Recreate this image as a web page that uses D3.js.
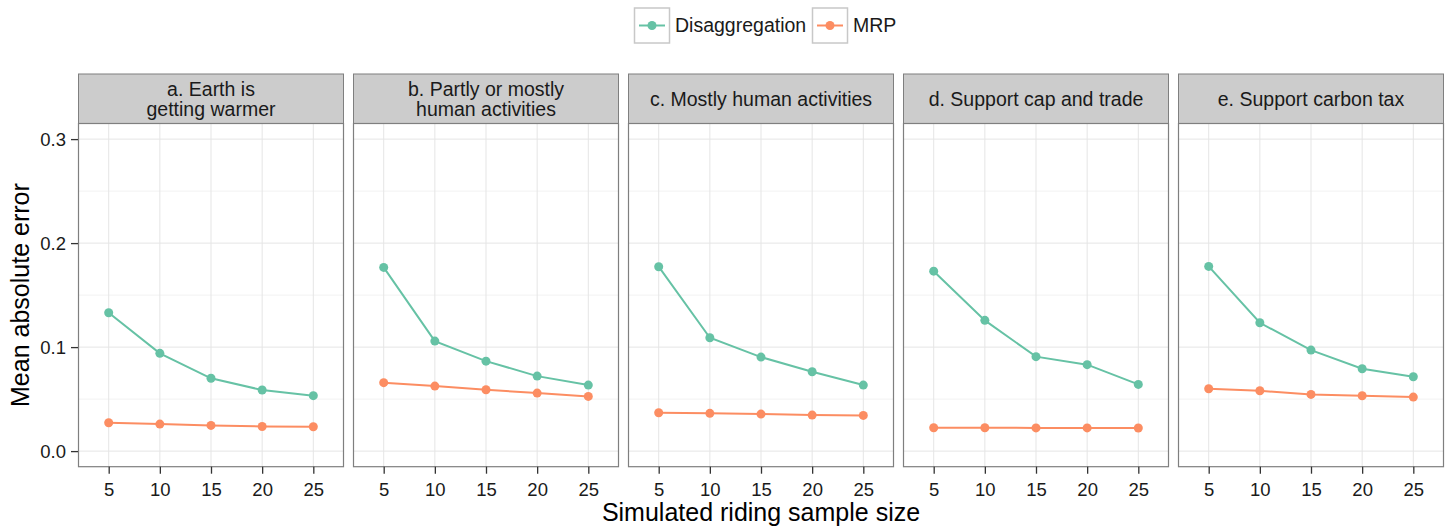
<!DOCTYPE html>
<html>
<head>
<meta charset="utf-8">
<script src="https://cdn.jsdelivr.net/npm/d3@7"></script>
<style>
  body { margin: 0; background: #fff; }
  svg { font-family: "Liberation Sans", Arial, sans-serif; }
</style>
</head>
<body>
<svg id="chart"></svg>
<script>
let sampleSizes = [5, 10, 15, 20, 25];
let panelTitles = [
  ['a. Earth is', 'getting warmer'],
  ['b. Partly or mostly', 'human activities'],
  ['c. Mostly human activities'],
  ['d. Support cap and trade'],
  ['e. Support carbon tax']
];
let seriesNames = ['Disaggregation', 'MRP'];
let seriesColors = ['#66c2a5', '#fc8d62'];
let yTicks = [0.0, 0.1, 0.2, 0.3];
let yMinorTicks = [0.05, 0.15, 0.25];

let disaggregation = [
  [0.133, 0.094, 0.070, 0.0587, 0.0533],
  [0.1766, 0.1058, 0.0865, 0.0721, 0.0635],
  [0.1773, 0.109, 0.0904, 0.0763, 0.0635],
  [0.173, 0.1257, 0.0908, 0.0831, 0.0641],
  [0.1776, 0.1234, 0.0971, 0.0792, 0.0715]
];
let mrp = [
  [0.0273, 0.026, 0.0247, 0.0237, 0.0234],
  [0.0658, 0.0625, 0.059, 0.0558, 0.0526],
  [0.0369, 0.0363, 0.0356, 0.0346, 0.0343],
  [0.0225, 0.0224, 0.0223, 0.0223, 0.0222],
  [0.060, 0.058, 0.0545, 0.0532, 0.0519]
];

let width = 1448;
let height = 527;
let panelLeft = 78;
let panelWidth = 266;
let panelGap = 9;
let stripTop = 74;
let stripBottom = 123.5;
let plotBottom = 466.7;

let svg = d3.select('#chart').attr('width', width).attr('height', height);

let xScale = d3.scalePoint().domain(sampleSizes).range([0, panelWidth]).padding(0.6);
let yScale = d3.scaleLinear().domain([-0.015, 0.315]).range([plotBottom, stripBottom]);

let line = d3.line().x(d => xScale(d.x)).y(d => yScale(d.y));

panelTitles.forEach((title, i) => {
  let left = panelLeft + i * (panelWidth + panelGap);
  let g = svg.append('g').attr('transform', 'translate(' + left + ',0)');

  // strip
  g.append('rect')
    .attr('x', 0.5).attr('y', stripTop)
    .attr('width', panelWidth - 1).attr('height', stripBottom - stripTop)
    .attr('fill', '#cccccc').attr('stroke', '#7f7f7f').attr('stroke-width', 1);
  let mid = (stripTop + stripBottom) / 2;
  title.forEach((t, j) => {
    g.append('text')
      .attr('x', panelWidth / 2)
      .attr('y', mid + (j - (title.length - 1) / 2) * 20)
      .attr('dy', '0.35em')
      .attr('text-anchor', 'middle')
      .attr('font-size', 19.5)
      .attr('fill', '#1a1a1a')
      .text(t);
  });

  // grid
  g.selectAll('.minor').data(yMinorTicks).enter().append('line')
    .attr('x1', 0).attr('x2', panelWidth)
    .attr('y1', d => yScale(d)).attr('y2', d => yScale(d))
    .attr('stroke', '#f2f2f2').attr('stroke-width', 1);
  g.selectAll('.majory').data(yTicks).enter().append('line')
    .attr('x1', 0).attr('x2', panelWidth)
    .attr('y1', d => yScale(d)).attr('y2', d => yScale(d))
    .attr('stroke', '#e5e5e5').attr('stroke-width', 1);
  g.selectAll('.majorx').data(sampleSizes).enter().append('line')
    .attr('x1', d => xScale(d)).attr('x2', d => xScale(d))
    .attr('y1', stripBottom).attr('y2', plotBottom)
    .attr('stroke', '#e5e5e5').attr('stroke-width', 1);

  // series
  [disaggregation[i], mrp[i]].forEach((vals, s) => {
    let pts = vals.map((v, k) => ({ x: sampleSizes[k], y: v }));
    g.append('path').datum(pts)
      .attr('d', line)
      .attr('fill', 'none')
      .attr('stroke', seriesColors[s])
      .attr('stroke-width', 2);
    g.selectAll('.pt' + s).data(pts).enter().append('circle')
      .attr('cx', d => xScale(d.x)).attr('cy', d => yScale(d.y))
      .attr('r', 4.5).attr('fill', seriesColors[s]);
  });

  // panel border
  g.append('rect')
    .attr('x', 0.5).attr('y', stripBottom)
    .attr('width', panelWidth - 1).attr('height', plotBottom - stripBottom)
    .attr('fill', 'none').attr('stroke', '#7f7f7f').attr('stroke-width', 1.2);

  // x axis
  let xAxis = d3.axisBottom(xScale).tickSize(7).tickPadding(9);
  let ax = g.append('g').attr('transform', 'translate(0,' + plotBottom + ')').call(xAxis);
  ax.select('.domain').remove();
  ax.selectAll('line').attr('stroke', '#333').attr('stroke-width', 1.3);
  ax.selectAll('text').attr('font-size', 18.5).attr('fill', '#1a1a1a').attr('font-family', null);

  if (i === 0) {
    let yAxis = d3.axisLeft(yScale).tickValues(yTicks).tickFormat(d3.format('.1f')).tickSize(7).tickPadding(5);
    let ay = g.append('g').call(yAxis);
    ay.select('.domain').remove();
    ay.selectAll('line').attr('stroke', '#333').attr('stroke-width', 1.3);
    ay.selectAll('text').attr('font-size', 18.5).attr('fill', '#1a1a1a').attr('font-family', null);
  }
});

// axis titles
svg.append('text')
  .attr('x', (panelLeft + panelLeft + 5 * panelWidth + 4 * panelGap) / 2)
  .attr('y', 521)
  .attr('text-anchor', 'middle')
  .attr('font-size', 25)
  .attr('fill', '#000')
  .text('Simulated riding sample size');

svg.append('text')
  .attr('transform', 'translate(28.5,' + ((stripBottom + plotBottom) / 2) + ') rotate(-90)')
  .attr('text-anchor', 'middle')
  .attr('font-size', 25)
  .attr('fill', '#000')
  .text('Mean absolute error');

// legend
let legendItems = [
  { name: seriesNames[0], color: seriesColors[0], x: 634, tx: 675 },
  { name: seriesNames[1], color: seriesColors[1], x: 812, tx: 853 }
];
legendItems.forEach(item => {
  let lg = svg.append('g').attr('transform', 'translate(' + item.x + ',7.5)');
  lg.append('rect')
    .attr('x', 0.5).attr('y', 0.5).attr('width', 35).attr('height', 35)
    .attr('fill', '#fff').attr('stroke', '#c8c8c8').attr('stroke-width', 1.5);
  lg.append('line')
    .attr('x1', 5).attr('x2', 31).attr('y1', 18).attr('y2', 18)
    .attr('stroke', item.color).attr('stroke-width', 2);
  lg.append('circle').attr('cx', 18).attr('cy', 18).attr('r', 4.5).attr('fill', item.color);
  svg.append('text')
    .attr('x', item.tx).attr('y', 25.5)
    .attr('dy', '0.35em')
    .attr('font-size', 19.5)
    .attr('fill', '#1a1a1a')
    .text(item.name);
});
</script>
</body>
</html>
